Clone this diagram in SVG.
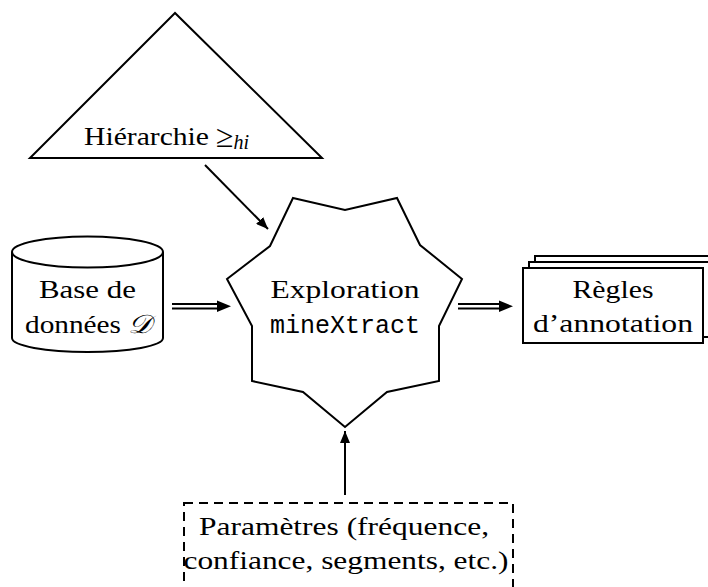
<svg xmlns="http://www.w3.org/2000/svg" width="708" height="587" viewBox="0 0 708 587">
<style>
.shape{fill:#fff;stroke:#000;stroke-width:2}
.t{font-family:"Liberation Serif","DejaVu Serif",serif;font-size:26px;fill:#000;text-anchor:middle}
.m{font-family:"Liberation Mono","DejaVu Sans Mono",monospace;font-size:25px;fill:#000;text-anchor:middle}
.ln{stroke:#000;stroke-width:2;fill:none}
</style>
<defs>
<marker id="ah" viewBox="0 0 12 10" refX="12" refY="5" markerWidth="12" markerHeight="10" markerUnits="userSpaceOnUse" orient="auto">
<path d="M0,0 L12,5 L0,10 Z" fill="#000"/>
</marker>
</defs>
<rect width="708" height="587" fill="#fff"/>
<g id="hierarchie">
<polygon class="shape" points="175,13 30,158 322,158"/>
<text class="t" x="84" y="145" style="text-anchor:start"><tspan textLength="125" lengthAdjust="spacingAndGlyphs">Hiérarchie</tspan><tspan x="216" font-size="32" dy="2">≥</tspan><tspan font-style="italic" font-size="20" dy="2">hi</tspan></text>
</g>
<g id="base">
<path class="shape" d="M12,252 L12,338 A75.5,14 0 0 0 163,338 L163,252 A75.5,15.5 0 0 0 12,252 Z"/>
<path class="ln" d="M12,252 A75.5,15.5 0 0 0 163,252"/>
<text class="t" x="87.5" y="298" textLength="97" lengthAdjust="spacingAndGlyphs">Base de</text>
<text class="t" x="88.5" y="333" textLength="127" lengthAdjust="spacingAndGlyphs">données <tspan font-style="italic">𝒟</tspan></text>
</g>
<g id="exploration">
<polygon class="shape" points="293,198 345,210 397,198 420,245 462,279 439,326 439,381 387,392 345,427 303,392 252,381 252,326 227,279 270,246"/>
<text class="t" x="345" y="298" textLength="149" lengthAdjust="spacingAndGlyphs">Exploration</text>
<text class="m" x="345" y="333">mineXtract</text>
</g>
<g id="regles">
<rect class="shape" x="535" y="256" width="180" height="75"/>
<rect class="shape" x="529" y="262" width="180" height="75"/>
<rect class="shape" x="523" y="268" width="180" height="75"/>
<text class="t" x="613" y="298" textLength="81" lengthAdjust="spacingAndGlyphs">Règles</text>
<text class="t" x="613" y="332" textLength="160" lengthAdjust="spacingAndGlyphs">d’annotation</text>
</g>
<g id="parametres">
<rect x="184" y="503" width="329" height="100" fill="#fff" stroke="#000" stroke-width="2" stroke-dasharray="9,6"/>
<text class="t" x="344" y="535" textLength="290" lengthAdjust="spacingAndGlyphs">Paramètres (fréquence,</text>
<text class="t" x="346" y="569" textLength="325" lengthAdjust="spacingAndGlyphs">confiance, segments, etc.)</text>
</g>
<g id="connectors">
<line class="ln" x1="205" y1="165" x2="268" y2="229" marker-end="url(#ah)"/>
<line class="ln" x1="345" y1="495" x2="345" y2="431" marker-end="url(#ah)"/>
<line class="ln" x1="172" y1="304" x2="220" y2="304"/>
<line class="ln" x1="172" y1="308.5" x2="220" y2="308.5"/>
<polygon points="217,300.5 231,306.2 217,312" fill="#000"/>
<line class="ln" x1="458" y1="304" x2="502" y2="304"/>
<line class="ln" x1="458" y1="308.5" x2="502" y2="308.5"/>
<polygon points="499,300.5 513,306.2 499,312" fill="#000"/>
</g>
</svg>
